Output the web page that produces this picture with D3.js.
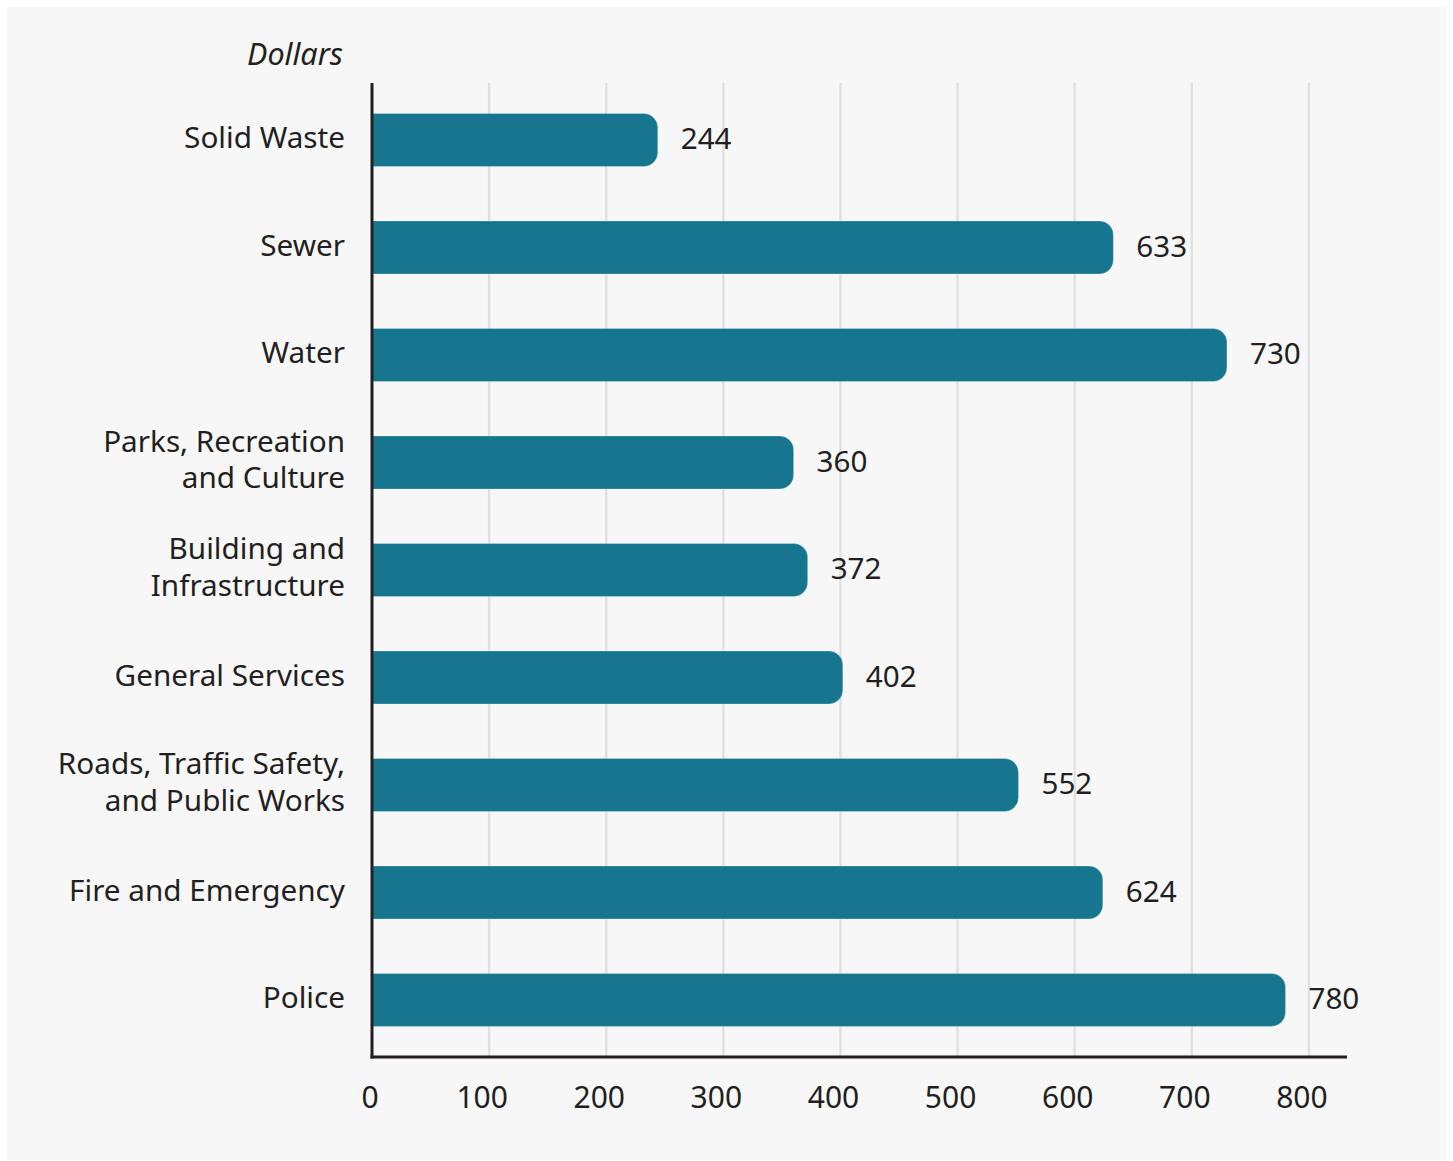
<!DOCTYPE html>
<html>
<head>
<meta charset="utf-8">
<script src="https://cdn.jsdelivr.net/npm/d3@7/dist/d3.min.js"></script>
<style>
  html, body { margin: 0; padding: 0; background: #ffffff; }
  svg { display: block; }
  text { font-family: "Noto Sans", "Open Sans", sans-serif; fill: #231f20; }
</style>
</head>
<body>
<svg id="chart" width="1453" height="1161"></svg>
<script>
// Spending per category, in dollars
const categories = [
  "Solid Waste",
  "Sewer",
  "Water",
  "Parks, Recreation|and Culture",
  "Building and|Infrastructure",
  "General Services",
  "Roads, Traffic Safety,|and Public Works",
  "Fire and Emergency",
  "Police"
];
const values = [244, 633, 730, 360, 372, 402, 552, 624, 780];
const tickValues = [0, 100, 200, 300, 400, 500, 600, 700, 800];
const axisTitle = "Dollars";

const svg = d3.select("#chart");

// panel background
svg.append("rect")
  .attr("x", 7).attr("y", 7)
  .attr("width", 1439).attr("height", 1153)
  .attr("fill", "#f8f7f8");

const plot = { left: 372, right: 1347, top: 83, bottom: 1057 };

const x = d3.scaleLinear()
  .domain([0, 832.5])
  .range([plot.left, plot.right]);

const y = d3.scaleBand()
  .domain(categories)
  .range([plot.top, plot.bottom])
  .paddingInner(0.507)
  .paddingOuter(0.284);

const data = categories.map((c, i) => ({ cat: c, value: values[i] }));

// vertical gridlines
svg.append("g")
  .selectAll("line")
  .data(tickValues.filter(t => t > 0))
  .join("line")
  .attr("x1", d => x(d)).attr("x2", d => x(d))
  .attr("y1", plot.top).attr("y2", plot.bottom)
  .attr("stroke", "#dfe0e0")
  .attr("stroke-width", 2.4);

// bars, rounded on the value end only
const r = 14;
function barPath(d) {
  const x0 = x(0), x1 = x(d.value);
  const y0 = y(d.cat), h = y.bandwidth(), y1 = y0 + h;
  return `M${x0},${y0}H${x1 - r}A${r},${r} 0 0 1 ${x1},${y0 + r}` +
         `V${y1 - r}A${r},${r} 0 0 1 ${x1 - r},${y1}H${x0}Z`;
}
svg.append("g")
  .selectAll("path")
  .data(data)
  .join("path")
  .attr("d", barPath)
  .attr("fill", "#16768f")
  .attr("stroke", "rgba(255,255,255,0.25)")
  .attr("stroke-width", 1);

// value labels
svg.append("g")
  .selectAll("text")
  .data(data)
  .join("text")
  .attr("x", d => x(d.value) + 23)
  .attr("y", d => y(d.cat) + y.bandwidth() / 2 - 1)
  .attr("dy", "0.35em")
  .attr("font-size", 29.6)
  .text(d => d3.format("d")(d.value));

// category labels (multi-line where split by "|")
const catG = svg.append("g");
data.forEach(d => {
  const lines = d.cat.split("|");
  const lh = 36.5;
  const cy = y(d.cat) + y.bandwidth() / 2 - (lines.length > 1 ? 3 : 2);
  const t = catG.append("text")
    .attr("text-anchor", "end")
    .attr("font-size", 29.7);
  lines.forEach((ln, i) => {
    t.append("tspan")
      .attr("x", 345)
      .attr("y", cy + (i - (lines.length - 1) / 2) * lh)
      .attr("dy", "0.35em")
      .text(ln);
  });
});

// x axis tick labels
const fmt = d3.format("d");
const xAxis = d3.axisBottom(x)
  .tickValues(tickValues)
  .tickSize(0)
  .tickPadding(0)
  .tickFormat(fmt);
const gx = svg.append("g")
  .attr("transform", `translate(0,${plot.bottom})`)
  .call(xAxis);
gx.select(".domain").remove();
gx.selectAll("text")
  .attr("font-size", 30)
  .attr("fill", "#231f20")
  .attr("font-family", "\"Noto Sans\", \"Open Sans\", sans-serif")
  .attr("y", 51.3)
  .attr("dy", 0)
  .attr("dx", d => -2.5 * fmt(d).length);

// axis lines
svg.append("line")
  .attr("x1", x(0)).attr("x2", x(0))
  .attr("y1", plot.top).attr("y2", plot.bottom + 1.5)
  .attr("stroke", "#231f20").attr("stroke-width", 3);
svg.append("line")
  .attr("x1", x(0) - 1.5).attr("x2", plot.right)
  .attr("y1", plot.bottom).attr("y2", plot.bottom)
  .attr("stroke", "#231f20").attr("stroke-width", 3);

// axis title
svg.append("text")
  .attr("x", 343).attr("y", 65)
  .attr("text-anchor", "end")
  .attr("font-size", 30.5)
  .attr("font-style", "italic")
  .text(axisTitle);
</script>
</body>
</html>
